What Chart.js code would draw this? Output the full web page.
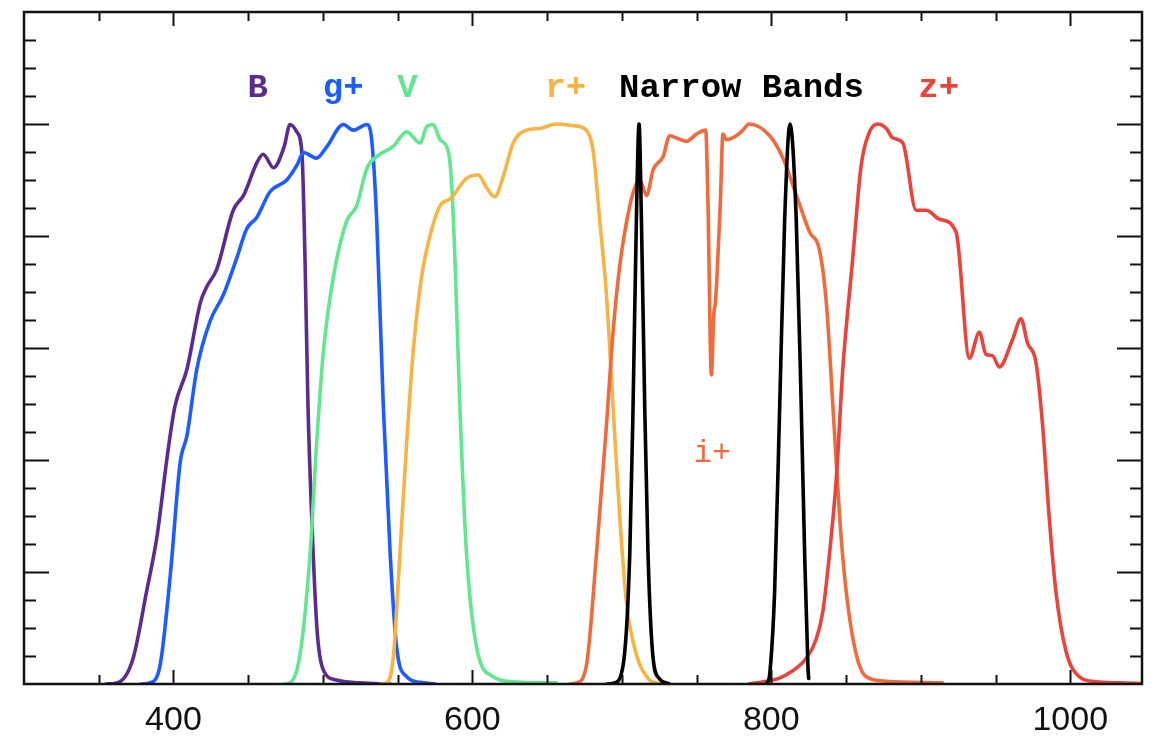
<!DOCTYPE html>
<html><head><meta charset="utf-8">
<script src="https://cdn.jsdelivr.net/npm/chart.js@4.4.1/dist/chart.umd.min.js"></script>
<style>html,body{margin:0;padding:0;background:#fff;} #wrap{width:1162px;height:739px;}</style>
</head><body><div id="wrap"><canvas id="c" width="1162" height="739"></canvas></div>
<script>
// ---- data (wavelength nm, relative transmission) ----
const bWl = [355, 364, 373, 382, 389, 396, 401, 409, 418, 422, 429, 440, 447, 456, 460, 467, 474, 478, 482.5, 486, 488, 490, 492.5, 496, 500, 509, 525, 545];
const bT  = [0, 0.004, 0.046, 0.165, 0.264, 0.41, 0.496, 0.562, 0.681, 0.708, 0.741, 0.846, 0.873, 0.932, 0.946, 0.922, 0.959, 0.999, 0.986, 0.946, 0.761, 0.496, 0.298, 0.099, 0.027, 0.007, 0.002, 0];

const gWl = [378, 384, 391, 398, 404.5, 409, 415.6, 424.5, 433.4, 442.4, 449, 455.7, 464.6, 475.8, 482.5, 487, 495.8, 502.5, 513.6, 520.3, 529.3, 532.6, 536, 540.4, 545, 549.3, 556, 565, 575];
const gT  = [0, 0.002, 0.033, 0.198, 0.396, 0.443, 0.562, 0.648, 0.695, 0.761, 0.813, 0.833, 0.879, 0.9, 0.926, 0.949, 0.939, 0.959, 0.999, 0.989, 0.999, 0.972, 0.827, 0.496, 0.232, 0.066, 0.013, 0.003, 0];

const vWl = [474, 478, 484.7, 491.4, 495.8, 500.3, 507, 515.9, 522.6, 529.3, 538.2, 547, 556, 565, 569.4, 573.8, 578.3, 583.8, 586.1, 588.3, 591.6, 596.1, 602.8, 613.9, 627.3, 656];
const vT  = [0, 0.002, 0.053, 0.232, 0.43, 0.594, 0.727, 0.827, 0.854, 0.92, 0.946, 0.96, 0.986, 0.966, 0.995, 0.999, 0.972, 0.952, 0.893, 0.761, 0.496, 0.232, 0.066, 0.013, 0.004, 0.002];

const rWl = [538, 542.6, 547, 551.5, 556, 560.4, 566, 571.6, 578.3, 585, 596.1, 603.9, 609.5, 615, 620.6, 627.3, 636.2, 645.1, 656.3, 667.4, 676.3, 680.8, 685.2, 689.7, 694.1, 698.6, 703.1, 709.7, 718.6, 723, 730];
const rT  = [0, 0.002, 0.046, 0.232, 0.43, 0.594, 0.727, 0.8, 0.854, 0.866, 0.903, 0.909, 0.886, 0.87, 0.906, 0.966, 0.989, 0.992, 1.0, 0.997, 0.989, 0.952, 0.827, 0.695, 0.496, 0.298, 0.145, 0.053, 0.007, 0.002, 0];

const iWl = [665, 669.6, 676.3, 683, 689.7, 694.1, 698.6, 705.3, 709.7, 712, 716.5, 720.9, 727.6, 732, 736.5, 743.2, 749.9, 756.1, 757.6, 759.9, 761.5, 762.5, 763.5, 765.9, 767.6, 769.9, 776.6, 781, 785, 798.9, 807.8, 816.7, 825.6, 832.3, 836.8, 841.2, 845.7, 850.1, 856.8, 863.5, 876.9, 914.4];
const iT  = [0, 0.002, 0.033, 0.232, 0.462, 0.628, 0.747, 0.854, 0.893, 0.9, 0.872, 0.918, 0.942, 0.979, 0.975, 0.969, 0.982, 0.989, 0.86, 0.552, 0.66, 0.68, 0.72, 0.86, 0.982, 0.972, 0.979, 0.989, 1.0, 0.979, 0.939, 0.873, 0.807, 0.774, 0.681, 0.496, 0.298, 0.165, 0.053, 0.013, 0.005, 0.002];

const n1Wl = [690, 695, 700.8, 705.3, 707.5, 709.7, 711.5, 713.1, 715.3, 717.5, 720.9, 725, 732];
const n1T  = [0, 0.002, 0.033, 0.232, 0.496, 0.827, 1.0, 0.827, 0.496, 0.232, 0.046, 0.01, 0];

const n2Wl = [797, 799, 802.2, 805.6, 808.9, 812.5, 816.7, 820, 822.3, 824.5, 825];
const n2T  = [0, 0.02, 0.165, 0.496, 0.827, 1.0, 0.827, 0.496, 0.232, 0.03, 0.01];

const zWl = [785, 790, 797, 805, 812.2, 823.4, 830, 834.5, 838.9, 843.4, 847.8, 854.5, 860.1, 865.7, 871.3, 876.9, 881.3, 888, 896.9, 903.6, 912.5, 923.6, 932.5, 939.2, 943.6, 948.1, 952.5, 961.4, 967, 971.4, 977, 981.5, 985.9, 990.4, 997.1, 1006, 1017.2, 1032.8, 1048];
const zT  = [0, 0.002, 0.005, 0.01, 0.02, 0.046, 0.08, 0.13, 0.232, 0.364, 0.562, 0.761, 0.926, 0.986, 1.0, 0.992, 0.975, 0.966, 0.846, 0.846, 0.83, 0.807, 0.582, 0.628, 0.589, 0.586, 0.566, 0.615, 0.652, 0.609, 0.575, 0.462, 0.298, 0.165, 0.059, 0.013, 0.004, 0.002, 0.001];

const xTickValues = [400, 600, 800, 1000];
const xTickLabels = ['400', '600', '800', '1000'];

const bandLabels = ['B', 'g+', 'V', 'r+', 'Narrow Bands', 'z+', 'i+'];
const bandLabelWl = [456.3, 513.6, 556.6, 662.4, 780, 912, 760.4];
const bandLabelT  = [1.048, 1.048, 1.048, 1.048, 1.048, 1.048, 0.397];
const bandLabelColors = ['#5b2c8f', '#1d5cff', '#62e690', '#f6b445', '#000000', '#e9443c', '#ef6b3b'];

// ---- build datasets ----
function pts(wl, t) { return wl.map((w, i) => ({ x: w, y: t[i] })); }
function ds(wl, t, color) {
  return { data: pts(wl, t), borderColor: color, borderWidth: 3.6, pointRadius: 0,
           fill: false, cubicInterpolationMode: 'monotone', borderJoinStyle: 'round', borderCapStyle: 'round' };
}
const datasets = [
  ds(n1Wl, n1T, '#000000'),
  ds(n2Wl, n2T, '#000000'),
  ds(zWl, zT, '#e9443c'),
  ds(iWl, iT, '#ef6b3b'),
  ds(rWl, rT, '#f6b445'),
  ds(vWl, vT, '#62e690'),
  ds(gWl, gT, '#1d5cff'),
  ds(bWl, bT, '#5b2c8f')
];

const framePlugin = {
  id: 'frame',
  afterDatasetsDraw(chart) {
    const { ctx, chartArea: a, scales: { x, y } } = chart;
    ctx.save();
    ctx.strokeStyle = '#111';
    ctx.lineWidth = 2;
    ctx.beginPath();
    for (let v = 350; v <= 1048; v += 50) {
      const px = Math.round(x.getPixelForValue(v)) + 0.5;
      const major = xTickValues.includes(v);
      const len = major ? 14 : 9;
      ctx.moveTo(px, a.bottom); ctx.lineTo(px, a.bottom - len);
      ctx.moveTo(px, a.top); ctx.lineTo(px, a.top + len);
    }
    for (let k = 1; k < 24; k++) {
      const v = k * 0.05;
      const py = Math.round(y.getPixelForValue(v)) + 0.5;
      const len = (k % 4 === 0) ? 25 : 12;
      ctx.moveTo(a.left, py); ctx.lineTo(a.left + len, py);
      ctx.moveTo(a.right, py); ctx.lineTo(a.right - len, py);
    }
    ctx.stroke();
    ctx.lineWidth = 2.5;
    ctx.strokeRect(a.left, a.top, a.right - a.left, a.bottom - a.top);
    // x tick labels
    ctx.fillStyle = '#111';
    ctx.font = '34px "Liberation Sans"';
    ctx.textAlign = 'center';
    ctx.textBaseline = 'alphabetic';
    xTickValues.forEach((v, i) => {
      ctx.fillText(xTickLabels[i], x.getPixelForValue(v), a.bottom + 46);
    });
    // band labels
    bandLabels.forEach((t, i) => {
      ctx.fillStyle = bandLabelColors[i];
      ctx.font = (t === 'i+') ? '31px "Liberation Mono"' : 'bold 34px "Liberation Mono"';
      ctx.fillText(t, x.getPixelForValue(bandLabelWl[i]), y.getPixelForValue(bandLabelT[i]));
    });
    ctx.restore();
  }
};

new Chart(document.getElementById('c').getContext('2d'), {
  type: 'line',
  data: { datasets },
  options: {
    responsive: false, animation: false, devicePixelRatio: 1,
    layout: { padding: { left: 24, right: 20, top: 12, bottom: 55 } },
    plugins: { legend: { display: false }, tooltip: { enabled: false } },
    scales: {
      x: { type: 'linear', min: 300, max: 1048, display: false },
      y: { type: 'linear', min: 0, max: 1.2, display: false }
    }
  },
  plugins: [framePlugin]
});
</script></body></html>
